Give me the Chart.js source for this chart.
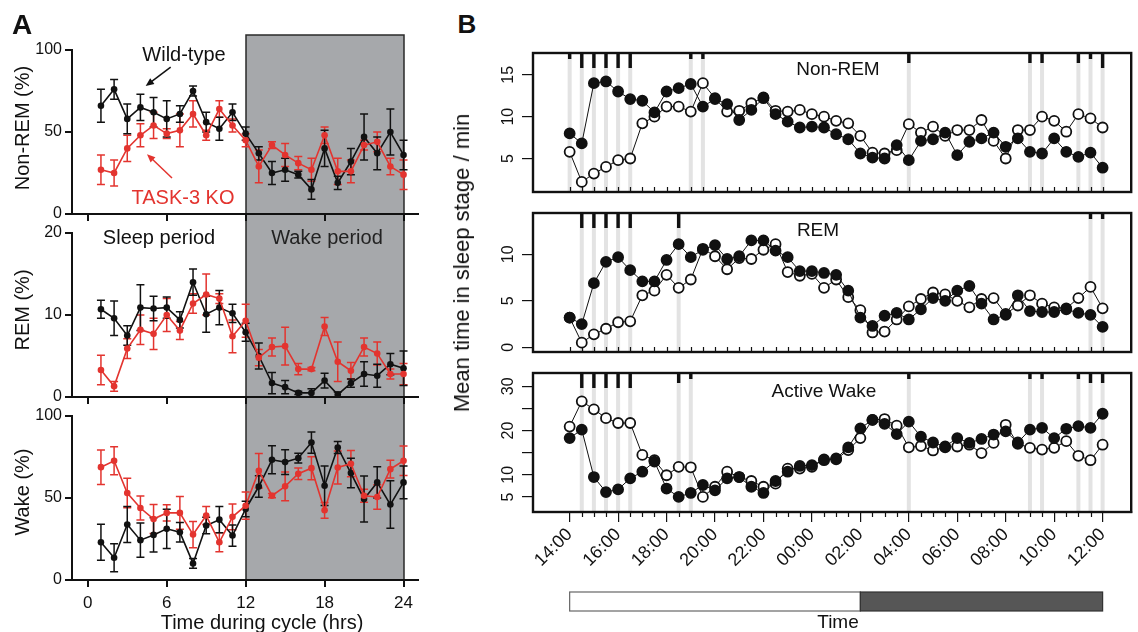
<!DOCTYPE html>
<html>
<head>
<meta charset="utf-8">
<script src="https://cdn.jsdelivr.net/npm/chart.js@4.4.1/dist/chart.umd.min.js"></script>
<style>
  body { margin: 0; background: #fff; width: 1138px; height: 632px; position: relative; overflow: hidden;
         font-family: 'Liberation Sans', Arial, sans-serif; color: #111; }
  canvas { position: absolute; }
  .t { position: absolute; white-space: nowrap; transform: translate(-50%, -50%); line-height: 1; }
  .r { transform: translate(-50%, -50%) rotate(-90deg); }
</style>
</head>
<body>
<canvas id="a1" width="430" height="222" style="left:0;top:0"></canvas>
<canvas id="a2" width="430" height="183" style="left:0;top:222px"></canvas>
<canvas id="a3" width="430" height="227" style="left:0;top:405px"></canvas>
<canvas id="b1" width="698" height="160" style="left:440px;top:40px"></canvas>
<canvas id="b2" width="698" height="160" style="left:440px;top:200px"></canvas>
<canvas id="b3" width="698" height="272" style="left:440px;top:360px"></canvas>

<div class="t" style="left:22px;top:25px;font-size:28px;font-weight:bold">A</div>
<div class="t" style="left:467px;top:24px;font-size:26px;font-weight:bold">B</div>
<div class="t r" style="left:22px;top:128px;font-size:20px">Non-REM (%)</div>
<div class="t r" style="left:22px;top:310px;font-size:20px">REM (%)</div>
<div class="t r" style="left:22px;top:492px;font-size:20px">Wake (%)</div>
<div class="t" style="left:262px;top:622px;font-size:20px">Time during cycle (hrs)</div>
<div class="t" style="left:184px;top:54px;font-size:20px">Wild-type</div>
<div class="t" style="left:183px;top:197px;font-size:20px;color:#e3342f">TASK-3 KO</div>
<div class="t" style="left:159px;top:237px;font-size:20px">Sleep period</div>
<div class="t" style="left:327px;top:237px;font-size:20px;color:#222">Wake period</div>
<div class="t" style="left:838px;top:68px;font-size:19px">Non-REM</div>
<div class="t" style="left:818px;top:229px;font-size:19px">REM</div>
<div class="t" style="left:824px;top:390px;font-size:19px">Active Wake</div>
<div class="t r" style="left:462px;top:263px;font-size:22px">Mean time in sleep stage / min</div>
<div class="t" style="left:838px;top:621px;font-size:19px">Time</div>

<script>
// ---------- panel A data (hourly, % of time) ----------
const hoursA = [1,2,3,4,5,6,7,8,9,10,11,12,13,14,15,16,17,18,19,20,21,22,23,24];
const xTicksA = [0, 6, 12, 18, 24];
const wakePeriodA = [12, 24];

const nremWT    = [66,76,58,65,62,58,61,75,56,52,62,49,37,25,27,24,15,40,19,32,47,37,50,36];
const nremWTErr = [10,6,9,8,9,11,5,3,6,7,5,4,4,7,7,2,6,11,4,8,14,10,14,9];
const nremKO    = [27,25,40,48,54,49,51,61,48,64,54,45,29,42,36,31,27,48,26,26,42,44,29,24];
const nremKOErr = [9,8,8,7,8,3,10,8,3,5,4,4,10,2,7,4,7,5,8,7,3,6,5,9];

const remWT    = [10.7,9.6,7.5,10.9,10.8,10.9,9.4,14,10.1,10.9,10.2,7.9,5,1.7,1.2,0.5,0.5,2,0.3,1.7,2.8,2.6,4,3.5];
const remWTErr = [1.1,2.1,1.2,2.8,1.5,1.3,1,1.6,2.2,2.1,1.1,1.1,1.6,1.3,0.8,0.2,0.5,0.9,0.3,0.5,1.5,1.4,1.3,2.1];
const remKO    = [3.3,1.3,5.9,8.2,7.7,10,8.1,11.4,12.5,12,7.4,9.3,4.8,6.1,6.2,3.4,3.4,8.6,4.3,3.2,6.1,5.3,2.8,2.8];
const remKOErr = [1.8,0.6,1.2,1.8,1.9,2,1.1,1.2,2.5,0.6,2,2,1,1.1,2.3,0.7,0.2,1.1,2.4,1,1.1,1.4,0.6,1.3];

const wakeWT    = [23,13.6,33.8,24.3,27.5,31.2,29.1,10.1,33.2,36.8,27.1,43.3,57,73.3,71.9,74.3,83.8,57.5,80.8,65.2,49.4,59.5,46,59.5];
const wakeWTErr = [11,8.5,11,10.5,10.5,12,6,3,5,8,6.5,4.7,6.5,8.5,7.5,3,6.5,12,3.7,9,14,9.5,14.5,10];
const wakeKO    = [68.8,72.7,53,43.9,37.2,40.9,40.9,27.7,39.3,23,38.5,45.3,66.6,51.4,57.1,64.8,68.2,42.5,68.6,70.9,51.4,50.6,67.6,72.7];
const wakeKOErr = [10.5,8.5,9,7.3,8.8,5,10,8,5.5,5.8,7.8,8.3,10.5,1.3,8.8,3.5,7,4.8,10,8,4,7.5,5.4,9];

// annotation arrows, in data units [x, y]
const arrowWT = { from: [6.3, 89.5], to: [4.4, 78] };
const arrowKO = { from: [6.4, 22], to: [4.5, 36.5] };

// ---------- panel B data (30 min bins, min) ----------
const times = ['14:00','14:30','15:00','15:30','16:00','16:30','17:00','17:30','18:00','18:30','19:00','19:30',
  '20:00','20:30','21:00','21:30','22:00','22:30','23:00','23:30','00:00','00:30','01:00','01:30','02:00','02:30',
  '03:00','03:30','04:00','04:30','05:00','05:30','06:00','06:30','07:00','07:30','08:00','08:30','09:00','09:30',
  '10:00','10:30','11:00','11:30','12:00'];
const majorLabels = ['14:00','16:00','18:00','20:00','22:00','00:00','02:00','04:00','06:00','08:00','10:00','12:00'];
const lightPeriod = ['14:00', '02:00'];
const darkPeriod = ['02:00', '12:00'];

const nremFilled = [8.0,6.8,14.0,14.2,13.0,12.1,11.9,10.5,13.0,13.4,13.9,11.2,12.1,11.5,9.6,10.8,12.2,10.3,9.4,8.7,8.8,8.7,7.9,7.3,5.6,5.1,5.0,6.6,4.8,7.1,7.3,8.1,5.4,7.0,7.4,8.1,6.4,7.4,5.8,5.6,7.4,5.8,5.2,5.7,3.9];
const nremOpen   = [5.8,2.2,3.2,4.0,4.8,5.0,9.2,10.0,11.2,11.2,10.6,14.0,12.2,10.6,10.7,11.6,12.3,10.7,10.6,10.8,10.3,10.0,9.5,9.2,7.7,5.7,5.6,6.0,9.1,8.1,8.8,7.7,8.4,8.4,9.6,7.1,5.0,8.4,8.4,10.0,9.5,8.2,10.3,9.8,8.7];
const remFilled  = [3.2,2.5,6.9,9.2,9.7,8.3,7.1,7.1,9.4,11.1,9.7,10.5,11.0,9.5,9.8,11.5,11.5,10.4,9.7,8.2,8.2,8.0,7.8,6.1,3.2,2.3,3.4,3.7,3.0,4.1,5.3,5.0,6.1,6.6,4.7,3.0,3.5,5.6,3.9,3.8,3.8,4.1,3.7,3.5,2.2];
const remOpen    = [3.2,0.5,1.4,2.0,2.7,2.8,5.6,6.1,7.8,6.4,7.3,10.6,9.8,8.4,9.6,9.5,10.5,11.1,8.1,7.7,7.9,6.4,7.3,5.4,4.0,1.6,1.7,3.0,4.4,5.2,5.9,5.7,5.0,4.3,5.2,5.3,3.6,4.5,5.6,4.7,4.3,4.2,5.3,6.5,4.2];
const awFilled   = [18.3,20.2,9.5,6.1,6.7,9.2,10.7,13.0,6.9,5.0,5.9,7.7,6.5,9.2,9.5,7.3,5.9,8.6,10.7,12.0,12.2,13.3,13.7,16.2,20.5,22.4,21.5,19.2,22.0,18.6,17.3,16.4,18.3,17.2,18.1,19.1,19.8,17.3,20.2,20.6,18.3,20.4,21.0,20.6,23.8];
const awOpen     = [20.9,26.6,24.8,22.8,21.7,21.7,14.5,13.3,9.9,11.8,11.7,5.0,7.3,10.7,9.5,8.6,7.3,8.0,11.4,11.4,11.8,13.5,13.5,15.6,18.3,22.4,22.6,21.1,16.2,16.5,15.5,16.2,16.4,16.8,14.9,17.2,21.3,17.0,16.1,15.7,16.1,17.6,14.3,13.3,16.8];

// significant bins (index into times) and marker level 1..3
const sigNrem = [0,1,2,3,4,5,10,11,28,38,39,42,43,44];
const levNrem = [1,3,3,3,3,3,1,1,2,2,2,2,1,3];
const sigRem  = [1,2,3,4,5,9,43,44];
const levRem  = [3,3,3,3,3,3,1,1];
const sigAw   = [1,2,3,4,5,9,10,28,38,39,42,43,44];
const levAw   = [3,3,3,3,3,2,1,1,1,1,1,2,2];

// ---------- helpers ----------
const INK = '#111';
const RED = '#e3342f';
const FONT = "'Liberation Sans', Arial, sans-serif";
Chart.defaults.font.family = FONT;
Chart.defaults.color = INK;

const toH = s => { const [h, m] = s.split(':').map(Number); return ((h - 14 + 24) % 24) + m / 60; };
const tHours = times.map(toH);
const majorHours = majorLabels.map(toH);
const markLen = { 1: 6, 2: 10, 3: 15 };

const yFit = w => s => { s.width = w; s.paddingTop = 0; s.paddingBottom = 0; };
const xFit = h => s => { s.height = h; s.paddingLeft = 0; s.paddingRight = 0; };

const errorBars = {
  id: 'errorBars',
  beforeDatasetsDraw(chart) {
    const { ctx, scales: { x, y } } = chart;
    chart.data.datasets.forEach(ds => {
      if (!ds.errors) return;
      ctx.save();
      ctx.strokeStyle = ds.borderColor;
      ctx.lineWidth = 1.5;
      ds.data.forEach((p, i) => {
        const e = ds.errors[i];
        const px = x.getPixelForValue(p.x);
        const lo = y.getPixelForValue(p.y - e), hi = y.getPixelForValue(p.y + e);
        ctx.beginPath();
        ctx.moveTo(px, lo); ctx.lineTo(px, hi);
        ctx.moveTo(px - 4, lo); ctx.lineTo(px + 4, lo);
        ctx.moveTo(px - 4, hi); ctx.lineTo(px + 4, hi);
        ctx.stroke();
      });
      ctx.restore();
    });
  }
};

const wakeShade = {
  id: 'wakeShade',
  beforeDraw(chart, args, o) {
    const { ctx, chartArea, scales: { x } } = chart;
    const x0 = Math.round(x.getPixelForValue(wakePeriodA[0]));
    const x1 = Math.round(x.getPixelForValue(wakePeriodA[1]));
    const top = o.top || 0;
    const bottom = o.toArea ? chartArea.bottom : chart.height;
    ctx.save();
    ctx.fillStyle = '#a6a8ab';
    ctx.fillRect(x0, top, x1 - x0, bottom - top);
    ctx.strokeStyle = '#2a2a2a';
    ctx.lineWidth = 1.5;
    ctx.beginPath();
    ctx.moveTo(x0, bottom); ctx.lineTo(x0, top);
    if (o.top) ctx.lineTo(x1, top); else ctx.moveTo(x1, top);
    ctx.lineTo(x1, bottom);
    ctx.stroke();
    ctx.restore();
  }
};

const arrows = {
  id: 'arrows',
  afterDraw(chart, args, o) {
    if (!o.list) return;
    const { ctx, scales: { x, y } } = chart;
    o.list.forEach(a => {
      const x0 = x.getPixelForValue(a.from[0]), y0 = y.getPixelForValue(a.from[1]);
      const x1 = x.getPixelForValue(a.to[0]), y1 = y.getPixelForValue(a.to[1]);
      const ang = Math.atan2(y1 - y0, x1 - x0);
      ctx.save();
      ctx.strokeStyle = a.color; ctx.fillStyle = a.color; ctx.lineWidth = 1.5;
      ctx.beginPath(); ctx.moveTo(x0, y0); ctx.lineTo(x1 - 6 * Math.cos(ang), y1 - 6 * Math.sin(ang)); ctx.stroke();
      ctx.beginPath();
      ctx.moveTo(x1, y1);
      ctx.lineTo(x1 - 9 * Math.cos(ang - 0.4), y1 - 9 * Math.sin(ang - 0.4));
      ctx.lineTo(x1 - 9 * Math.cos(ang + 0.4), y1 - 9 * Math.sin(ang + 0.4));
      ctx.closePath(); ctx.fill();
      ctx.restore();
    });
  }
};

function makeA(id, ko, koErr, wt, wtErr, yMax, yTicks, cfg) {
  const ds = (vals, errs, color) => ({
    data: hoursA.map((h, i) => ({ x: h, y: vals[i] })),
    errors: errs, borderColor: color, backgroundColor: color,
    borderWidth: 1.6, pointRadius: 3.3, pointBorderWidth: 0, pointBackgroundColor: color, tension: 0
  });
  return new Chart(document.getElementById(id), {
    type: 'line',
    data: { datasets: [ds(ko, koErr, RED), ds(wt, wtErr, INK)] },
    options: {
      responsive: false, animation: false,
      layout: { padding: { top: cfg.padTop, right: 12, bottom: 0, left: 0 } },
      plugins: { legend: { display: false }, tooltip: { enabled: false },
                 wakeShade: cfg.shade, arrows: { list: cfg.arrows } },
      scales: {
        x: { type: 'linear', min: -1.2, max: 25.1,
             afterBuildTicks: s => { s.ticks = xTicksA.map(v => ({ value: v })); },
             afterFit: xFit(cfg.xHeight),
             ticks: { display: cfg.xLabels, font: { size: 17 }, padding: 6, color: INK },
             grid: { drawOnChartArea: false, tickLength: 7, color: INK, lineWidth: 2 },
             border: { display: true, color: INK, width: 2 } },
        y: { min: 0, max: yMax,
             afterBuildTicks: s => { s.ticks = yTicks.map(v => ({ value: v })); },
             afterFit: yFit(72),
             ticks: { font: { size: 16 }, padding: 3, color: INK },
             grid: { drawOnChartArea: false, tickLength: 7, color: INK, lineWidth: 2 },
             border: { display: true, color: INK, width: 2 } }
      }
    },
    plugins: [wakeShade, errorBars, arrows]
  });
}

makeA('a1', nremKO, nremKOErr, nremWT, nremWTErr, 100, [0, 50, 100],
  { padTop: 50, xHeight: 8, xLabels: false, shade: { top: 35 },
    arrows: [{ ...arrowWT, color: INK }, { ...arrowKO, color: RED }] });
makeA('a2', remKO, remKOErr, remWT, remWTErr, 20, [0, 10, 20],
  { padTop: 11, xHeight: 8, xLabels: false, shade: { top: 0 }, arrows: [] });
makeA('a3', wakeKO, wakeKOErr, wakeWT, wakeWTErr, 100, [0, 50, 100],
  { padTop: 11, xHeight: 52, xLabels: true, shade: { top: 0, toArea: true }, arrows: [] });

// ---------- panel B ----------
const stageMarks = {
  id: 'stageMarks',
  beforeDatasetsDraw(chart, args, o) {
    const { ctx, chartArea: { top, bottom }, scales: { x } } = chart;
    ctx.save();
    ctx.fillStyle = '#e3e3e3';
    o.sig.forEach(i => { const px = x.getPixelForValue(tHours[i]); ctx.fillRect(px - 2, top, 4, bottom - top); });
    ctx.restore();
  },
  afterDraw(chart, args, o) {
    const { ctx, chartArea: { left, right, top, bottom }, scales: { x, y } } = chart;
    ctx.save();
    ctx.strokeStyle = INK;
    ctx.lineWidth = 1.2;
    tHours.forEach(h => {
      const px = Math.round(x.getPixelForValue(h)) + 0.5;
      ctx.beginPath();
      if (o.outer) {
        if (majorHours.includes(h)) return;
        ctx.moveTo(px, bottom); ctx.lineTo(px, bottom + 5);
      } else {
        ctx.moveTo(px, bottom); ctx.lineTo(px, bottom - 5);
      }
      ctx.stroke();
    });
    ctx.lineWidth = 2.4;
    ctx.strokeRect(left, top, right - left, bottom - top);
    ctx.fillStyle = INK;
    o.sig.forEach((i, k) => {
      const px = x.getPixelForValue(tHours[i]);
      ctx.fillRect(px - 1.7, top, 3.4, markLen[o.lev[k]]);
    });
    // y tick labels, parallel to the axis
    ctx.font = '16px ' + FONT;
    ctx.textAlign = 'center';
    ctx.textBaseline = 'middle';
    o.yTicks.forEach((v, i) => {
      if (!o.yLabels[i]) return;
      ctx.save();
      ctx.translate(left - 25, y.getPixelForValue(v));
      ctx.rotate(-Math.PI / 2);
      ctx.fillText(o.yLabels[i], 0, 1);
      ctx.restore();
    });
    if (o.outer) {
      const by = bottom + 80, bh = 19;
      const l0 = x.getPixelForValue(toH(lightPeriod[0])), l1 = x.getPixelForValue(toH(lightPeriod[1]));
      const d0 = x.getPixelForValue(toH(darkPeriod[0])), d1 = x.getPixelForValue(toH(darkPeriod[1]));
      ctx.lineWidth = 1.2;
      ctx.fillStyle = '#fff'; ctx.strokeStyle = '#666';
      ctx.fillRect(l0, by, l1 - l0, bh); ctx.strokeRect(l0, by, l1 - l0, bh);
      ctx.fillStyle = '#565656'; ctx.strokeStyle = '#333';
      ctx.fillRect(d0, by, d1 - d0, bh); ctx.strokeRect(d0, by, d1 - d0, bh);
    }
    ctx.restore();
  }
};

function makeB(id, filled, open, yMin, yMax, yTicks, yLabels, sig, lev, bottomAxis) {
  const ds = (vals, fill) => ({
    data: tHours.map((h, i) => ({ x: h, y: vals[i] })),
    borderColor: INK, borderWidth: 1, tension: 0,
    pointRadius: 5, pointBackgroundColor: fill, pointBorderColor: INK, pointBorderWidth: 1.8
  });
  return new Chart(document.getElementById(id), {
    type: 'line',
    data: { datasets: [ds(filled, INK), ds(open, '#fff')] },
    options: {
      responsive: false, animation: false,
      layout: { padding: { top: 13, right: 1, bottom: bottomAxis ? 0 : 8, left: 0 } },
      plugins: { legend: { display: false }, tooltip: { enabled: false },
                 stageMarks: { sig, lev, outer: bottomAxis, yTicks, yLabels } },
      scales: {
        x: { type: 'linear', min: -1.513, max: 23.18, display: bottomAxis,
             afterBuildTicks: s => { s.ticks = majorHours.map(v => ({ value: v })); },
             afterFit: xFit(bottomAxis ? 120 : 0),
             ticks: { callback: (v, i) => majorLabels[i], autoSkip: false, minRotation: 45, maxRotation: 45,
                      font: { size: 18 }, padding: 2, color: INK },
             grid: { drawOnChartArea: false, tickLength: 10, color: INK, lineWidth: 1.2 },
             border: { display: true, color: INK, width: 2 } },
        y: { min: yMin, max: yMax,
             afterBuildTicks: s => { s.ticks = yTicks.map(v => ({ value: v })); },
             afterFit: yFit(93),
             ticks: { display: false },
             grid: { drawOnChartArea: false, tickLength: 11, color: INK, lineWidth: 1.2 },
             border: { display: true, color: INK, width: 2 } }
      }
    },
    plugins: [stageMarks]
  });
}

makeB('b1', nremFilled, nremOpen, 1.0, 17.6, [5, 10, 15], ['5', '10', '15'], sigNrem, levNrem, false);
makeB('b2', remFilled, remOpen, -0.5, 14.45, [0, 5, 10], ['0', '5', '10'], sigRem, levRem, false);
makeB('b3', awFilled, awOpen, 1.6, 33.0, [5, 10, 15, 20, 25, 30], ['5', '10', '', '20', '', '30'], sigAw, levAw, true);
</script>
</body>
</html>
